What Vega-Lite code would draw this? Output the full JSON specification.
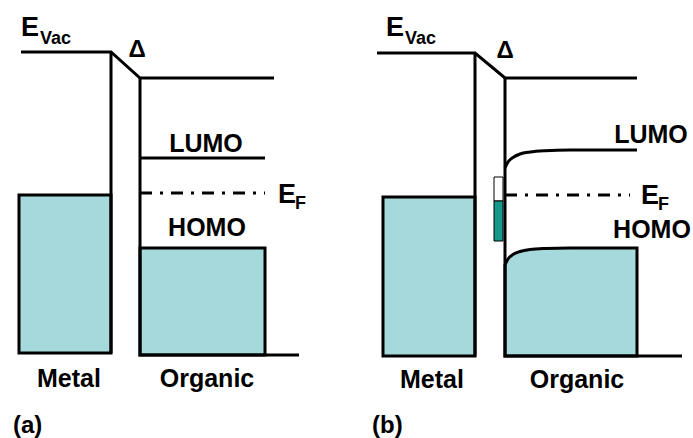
{
  "$schema": "https://vega.github.io/schema/vega-lite/v6.json",
  "width": 693,
  "height": 438,
  "padding": 0,
  "autosize": {"type": "fit", "contains": "padding"},
  "background": "white",
  "config": {"view": {"stroke": null}},
  "datasets": {
    "boxes": [
      {"name": "metal_a", "x": 19, "x2": 111, "y": 195, "y2": 353, "kind": "band"},
      {"name": "homo_a", "x": 140, "x2": 265, "y": 248, "y2": 355, "kind": "band"},
      {"name": "metal_b", "x": 383, "x2": 475, "y": 197, "y2": 356, "kind": "band"},
      {"name": "empty_b", "x": 494, "x2": 503, "y": 177, "y2": 201, "kind": "empty"},
      {"name": "filled_b", "x": 494, "x2": 503, "y": 201, "y2": 241, "kind": "filled"}
    ],
    "homo_b": [
      {"x": 505, "y": 265, "base": 356},
      {"x": 508, "y": 259, "base": 356},
      {"x": 513, "y": 254.5, "base": 356},
      {"x": 520, "y": 251.5, "base": 356},
      {"x": 530, "y": 249.5, "base": 356},
      {"x": 545, "y": 248.5, "base": 356},
      {"x": 570, "y": 248, "base": 356},
      {"x": 637, "y": 248, "base": 356}
    ],
    "lines": [
      {"seg": "vac_a", "o": 1, "x": 21, "y": 52, "kind": "solid"},
      {"seg": "vac_a", "o": 2, "x": 111, "y": 52, "kind": "solid"},
      {"seg": "vac_a", "o": 3, "x": 140, "y": 78, "kind": "solid"},
      {"seg": "vac_a", "o": 4, "x": 274, "y": 78, "kind": "solid"},
      {"seg": "metal_a", "o": 1, "x": 111, "y": 52, "kind": "solid"},
      {"seg": "metal_a", "o": 2, "x": 111, "y": 353, "kind": "solid"},
      {"seg": "org_a", "o": 1, "x": 140, "y": 78, "kind": "solid"},
      {"seg": "org_a", "o": 2, "x": 140, "y": 355, "kind": "solid"},
      {"seg": "org_a", "o": 3, "x": 299, "y": 355, "kind": "solid"},
      {"seg": "lumo_a", "o": 1, "x": 140, "y": 158, "kind": "solid"},
      {"seg": "lumo_a", "o": 2, "x": 265, "y": 158, "kind": "solid"},
      {"seg": "ef_a", "o": 1, "x": 140, "y": 193, "kind": "dash"},
      {"seg": "ef_a", "o": 2, "x": 265, "y": 193, "kind": "dash"},
      {"seg": "vac_b", "o": 1, "x": 377, "y": 53, "kind": "solid"},
      {"seg": "vac_b", "o": 2, "x": 475, "y": 53, "kind": "solid"},
      {"seg": "vac_b", "o": 3, "x": 505, "y": 78, "kind": "solid"},
      {"seg": "vac_b", "o": 4, "x": 637, "y": 78, "kind": "solid"},
      {"seg": "metal_b", "o": 1, "x": 475, "y": 53, "kind": "solid"},
      {"seg": "metal_b", "o": 2, "x": 475, "y": 356, "kind": "solid"},
      {"seg": "org_b", "o": 1, "x": 505, "y": 78, "kind": "solid"},
      {"seg": "org_b", "o": 2, "x": 505, "y": 356, "kind": "solid"},
      {"seg": "org_b", "o": 3, "x": 682, "y": 356, "kind": "solid"},
      {"seg": "lumo_b", "o": 1, "x": 505, "y": 168, "kind": "curve"},
      {"seg": "lumo_b", "o": 2, "x": 508, "y": 162, "kind": "curve"},
      {"seg": "lumo_b", "o": 3, "x": 513, "y": 157.5, "kind": "curve"},
      {"seg": "lumo_b", "o": 4, "x": 520, "y": 154, "kind": "curve"},
      {"seg": "lumo_b", "o": 5, "x": 530, "y": 152, "kind": "curve"},
      {"seg": "lumo_b", "o": 6, "x": 545, "y": 150.7, "kind": "curve"},
      {"seg": "lumo_b", "o": 7, "x": 570, "y": 150, "kind": "curve"},
      {"seg": "lumo_b", "o": 8, "x": 637, "y": 150, "kind": "curve"},
      {"seg": "ef_b", "o": 1, "x": 505, "y": 195, "kind": "dash"},
      {"seg": "ef_b", "o": 2, "x": 630, "y": 195, "kind": "dash"}
    ],
    "labels": [
      {"t": "E", "x": 21, "y": 36, "role": "big"},
      {"t": "Vac", "x": 40, "y": 44, "role": "sub"},
      {"t": "E", "x": 386, "y": 36, "role": "big"},
      {"t": "Vac", "x": 405, "y": 44, "role": "sub"},
      {"t": "Δ", "x": 137, "y": 57, "role": "delta"},
      {"t": "Δ", "x": 505, "y": 58, "role": "delta"},
      {"t": "LUMO", "x": 206, "y": 152, "role": "main"},
      {"t": "HOMO", "x": 207, "y": 236, "role": "main"},
      {"t": "E", "x": 278, "y": 203, "role": "big"},
      {"t": "F", "x": 295, "y": 209, "role": "sub"},
      {"t": "LUMO", "x": 651, "y": 143, "role": "main"},
      {"t": "HOMO", "x": 652, "y": 238, "role": "main"},
      {"t": "E", "x": 641, "y": 204, "role": "big"},
      {"t": "F", "x": 658, "y": 210, "role": "sub"},
      {"t": "Metal", "x": 69, "y": 387, "role": "main"},
      {"t": "Organic", "x": 207, "y": 387, "role": "main"},
      {"t": "Metal", "x": 432, "y": 388, "role": "main"},
      {"t": "Organic", "x": 577, "y": 388, "role": "main"},
      {"t": "(a)", "x": 13, "y": 433, "role": "panel"},
      {"t": "(b)", "x": 372, "y": 433, "role": "panel"}
    ]
  },
  "layer": [
    {
      "data": {"name": "boxes"},
      "transform": [{"filter": "datum.kind === 'band'"}],
      "mark": {"type": "rect", "fill": "#a6d9dc", "stroke": "black", "strokeWidth": 3},
      "encoding": {
        "x": {"field": "x", "type": "quantitative", "scale": {"domain": [0, 693], "nice": false, "zero": false}, "axis": null},
        "x2": {"field": "x2"},
        "y": {"field": "y", "type": "quantitative", "scale": {"domain": [0, 438], "nice": false, "zero": false, "reverse": true}, "axis": null},
        "y2": {"field": "y2"}
      }
    },
    {
      "data": {"name": "homo_b"},
      "mark": {"type": "area", "fill": "#a6d9dc", "stroke": "black", "strokeWidth": 3, "interpolate": "monotone"},
      "encoding": {
        "x": {"field": "x", "type": "quantitative"},
        "y": {"field": "y", "type": "quantitative"},
        "y2": {"field": "base"}
      }
    },
    {
      "data": {"name": "lines"},
      "transform": [{"filter": "datum.kind === 'solid'"}],
      "mark": {"type": "line", "color": "black", "strokeWidth": 3, "strokeJoin": "miter", "strokeCap": "butt"},
      "encoding": {
        "x": {"field": "x", "type": "quantitative"},
        "y": {"field": "y", "type": "quantitative"},
        "detail": {"field": "seg", "type": "nominal"},
        "order": {"field": "o", "type": "quantitative"}
      }
    },
    {
      "data": {"name": "lines"},
      "transform": [{"filter": "datum.kind === 'curve'"}],
      "mark": {"type": "line", "color": "black", "strokeWidth": 3, "interpolate": "monotone", "strokeCap": "butt"},
      "encoding": {
        "x": {"field": "x", "type": "quantitative"},
        "y": {"field": "y", "type": "quantitative"},
        "detail": {"field": "seg", "type": "nominal"},
        "order": {"field": "o", "type": "quantitative"}
      }
    },
    {
      "data": {"name": "lines"},
      "transform": [{"filter": "datum.kind === 'dash'"}],
      "mark": {"type": "line", "color": "black", "strokeWidth": 3, "strokeDash": [12, 8, 3, 8], "strokeCap": "butt"},
      "encoding": {
        "x": {"field": "x", "type": "quantitative"},
        "y": {"field": "y", "type": "quantitative"},
        "detail": {"field": "seg", "type": "nominal"},
        "order": {"field": "o", "type": "quantitative"}
      }
    },
    {
      "data": {"name": "boxes"},
      "transform": [{"filter": "datum.kind !== 'band'"}],
      "mark": {"type": "rect", "stroke": "black", "strokeWidth": 1},
      "encoding": {
        "x": {"field": "x", "type": "quantitative"},
        "x2": {"field": "x2"},
        "y": {"field": "y", "type": "quantitative"},
        "y2": {"field": "y2"},
        "fill": {"field": "kind", "type": "nominal", "scale": {"domain": ["empty", "filled"], "range": ["white", "#15998b"]}, "legend": null}
      }
    },
    {
      "data": {"name": "labels"},
      "transform": [{"filter": "datum.role === 'main'"}],
      "mark": {"type": "text", "font": "Liberation Sans", "fontWeight": "bold", "fontSize": 25, "align": "center", "baseline": "alphabetic", "color": "black"},
      "encoding": {
        "x": {"field": "x", "type": "quantitative"},
        "y": {"field": "y", "type": "quantitative"},
        "text": {"field": "t"}
      }
    },
    {
      "data": {"name": "labels"},
      "transform": [{"filter": "datum.role === 'big'"}],
      "mark": {"type": "text", "font": "Liberation Sans", "fontWeight": "bold", "fontSize": 27, "align": "left", "baseline": "alphabetic", "color": "black"},
      "encoding": {
        "x": {"field": "x", "type": "quantitative"},
        "y": {"field": "y", "type": "quantitative"},
        "text": {"field": "t"}
      }
    },
    {
      "data": {"name": "labels"},
      "transform": [{"filter": "datum.role === 'sub'"}],
      "mark": {"type": "text", "font": "Liberation Sans", "fontWeight": "bold", "fontSize": 18, "align": "left", "baseline": "alphabetic", "color": "black"},
      "encoding": {
        "x": {"field": "x", "type": "quantitative"},
        "y": {"field": "y", "type": "quantitative"},
        "text": {"field": "t"}
      }
    },
    {
      "data": {"name": "labels"},
      "transform": [{"filter": "datum.role === 'delta'"}],
      "mark": {"type": "text", "font": "Liberation Sans", "fontWeight": "bold", "fontSize": 24, "align": "center", "baseline": "alphabetic", "color": "black"},
      "encoding": {
        "x": {"field": "x", "type": "quantitative"},
        "y": {"field": "y", "type": "quantitative"},
        "text": {"field": "t"}
      }
    },
    {
      "data": {"name": "labels"},
      "transform": [{"filter": "datum.role === 'panel'"}],
      "mark": {"type": "text", "font": "Liberation Sans", "fontWeight": "bold", "fontSize": 24, "align": "left", "baseline": "alphabetic", "color": "black"},
      "encoding": {
        "x": {"field": "x", "type": "quantitative"},
        "y": {"field": "y", "type": "quantitative"},
        "text": {"field": "t"}
      }
    }
  ]
}
